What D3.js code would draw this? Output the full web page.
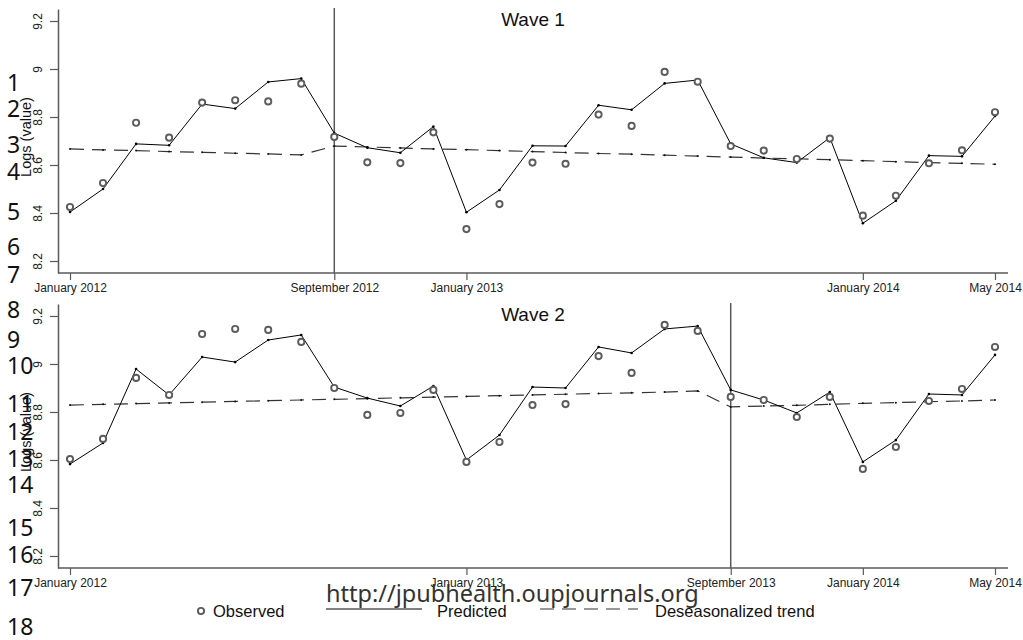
<!DOCTYPE html>
<html>
<head>
<meta charset="utf-8">
<script src="https://cdn.jsdelivr.net/npm/d3@7"></script>
<style>
  body { margin: 0; background: #fff; }
  svg { display: block; }
</style>
</head>
<body>
<svg id="chart" width="1023" height="640"></svg>
<script>
// Months January 2012 .. May 2014
const months = [
  "Jan 2012","Feb 2012","Mar 2012","Apr 2012","May 2012","Jun 2012","Jul 2012","Aug 2012",
  "Sep 2012","Oct 2012","Nov 2012","Dec 2012","Jan 2013","Feb 2013","Mar 2013","Apr 2013",
  "May 2013","Jun 2013","Jul 2013","Aug 2013","Sep 2013","Oct 2013","Nov 2013","Dec 2013",
  "Jan 2014","Feb 2014","Mar 2014","Apr 2014","May 2014"
];

// Labelled months on each panel's time axis
const wave1Ticks = ["Jan 2012", "Sep 2012", "Jan 2013", "Jan 2014", "May 2014"];
const wave2Ticks = ["Jan 2012", "Jan 2013", "Sep 2013", "Jan 2014", "May 2014"];
const tickNames = {
  "Jan 2012": "January 2012", "Sep 2012": "September 2012", "Jan 2013": "January 2013",
  "Sep 2013": "September 2013", "Jan 2014": "January 2014", "May 2014": "May 2014"
};
const yTicks = [8.2, 8.4, 8.6, 8.8, 9, 9.2];

// Wave 1 (intervention September 2012)
const wave1Observed = [8.425, 8.525, 8.776, 8.714, 8.860, 8.870, 8.865, 8.939,
  8.717, 8.611, 8.608, 8.736, 8.333, 8.437, 8.610, 8.605,
  8.810, 8.763, 8.988, 8.947, 8.679, 8.660, 8.625, 8.710,
  8.389, 8.472, 8.607, 8.661, 8.820];
const wave1Predicted = [8.404, 8.500, 8.688, 8.682, 8.854, 8.835, 8.946, 8.960,
  8.733, 8.672, 8.651, 8.760, 8.403, 8.496, 8.680, 8.679,
  8.849, 8.830, 8.940, 8.954, 8.688, 8.630, 8.610, 8.714,
  8.357, 8.451, 8.639, 8.636, 8.804];
const wave1Trend = [8.667, 8.663, 8.660, 8.656, 8.653, 8.649, 8.646, 8.642,
  8.679, 8.675, 8.671, 8.667, 8.664, 8.660, 8.656, 8.652,
  8.648, 8.645, 8.641, 8.637, 8.633, 8.629, 8.626, 8.622,
  8.618, 8.614, 8.610, 8.607, 8.603];

// Wave 2 (intervention September 2013)
const wave2Observed = [8.604, 8.688, 8.942, 8.871, 9.125, 9.146, 9.142, 9.092,
  8.900, 8.788, 8.796, 8.892, 8.592, 8.675, 8.829, 8.833,
  9.033, 8.963, 9.163, 9.138, 8.863, 8.850, 8.779, 8.863,
  8.563, 8.654, 8.846, 8.896, 9.071];
const wave2Predicted = [8.583, 8.671, 8.979, 8.871, 9.029, 9.008, 9.100, 9.121,
  8.904, 8.858, 8.825, 8.908, 8.600, 8.704, 8.904, 8.900,
  9.071, 9.046, 9.146, 9.158, 8.892, 8.850, 8.796, 8.883,
  8.592, 8.683, 8.875, 8.871, 9.038];
const wave2Trend = [8.829, 8.832, 8.835, 8.838, 8.841, 8.844, 8.847, 8.850,
  8.853, 8.856, 8.859, 8.862, 8.865, 8.868, 8.871, 8.874,
  8.877, 8.880, 8.883, 8.888, 8.821, 8.825, 8.828, 8.832,
  8.836, 8.839, 8.843, 8.846, 8.850];

const panels = [
  { title: "Wave 1", observed: wave1Observed, predicted: wave1Predicted, trend: wave1Trend,
    ticks: wave1Ticks, cut: "Sep 2012", top: 9, bottom: 273 },
  { title: "Wave 2", observed: wave2Observed, predicted: wave2Predicted, trend: wave2Trend,
    ticks: wave2Ticks, cut: "Sep 2013", top: 304, bottom: 568 }
];

const lineNumbers = d3.range(1, 19);
const lineNumberY = [83, 109, 145, 172, 212, 247, 275, 310, 340, 366, 404, 432, 459, 485, 528, 555, 588, 627];

const legendItems = ["Observed", "Predicted", "Deseasonalized trend"];
const sourceUrl = "http://jpubhealth.oupjournals.org";

const svg = d3.select("#chart");
const font = "'Liberation Sans', Arial, sans-serif";
const axisColor = "#5a5a5a";

const x = d3.scaleLinear().domain([0, months.length - 1]).range([70, 995]);
const xm = m => x(months.indexOf(m));

panels.forEach(p => {
  const y = d3.scaleLinear().domain([8.15, 9.25]).range([p.bottom, p.top]);
  const g = svg.append("g");

  // left axis
  const yAxis = d3.axisLeft(y).tickValues(yTicks).tickSize(8).tickSizeOuter(0)
    .tickFormat(d => d3.format("")(d));
  const ya = g.append("g").attr("transform", "translate(58,0)").call(yAxis);
  ya.select(".domain").attr("stroke", axisColor).attr("stroke-width", 1.5);
  ya.selectAll(".tick line").attr("stroke", axisColor).attr("stroke-width", 1.2);
  ya.selectAll(".tick text")
    .attr("font-family", font).attr("font-size", 12).attr("fill", "#222")
    .attr("transform", "rotate(-90)")
    .attr("x", 0).attr("y", -20).attr("dy", "0.35em")
    .attr("text-anchor", "middle");

  // bottom axis
  const xAxis = d3.axisBottom(x).tickValues(p.ticks.map(t => months.indexOf(t)))
    .tickSize(7).tickSizeOuter(0).tickFormat(i => tickNames[months[i]]);
  const xa = g.append("g").attr("transform", `translate(0,${p.bottom})`).call(xAxis);
  xa.select(".domain").remove();
  xa.append("line").attr("x1", 58).attr("x2", 1008).attr("y1", 0).attr("y2", 0)
    .attr("stroke", axisColor).attr("stroke-width", 1.5);
  xa.selectAll(".tick line").attr("stroke", axisColor).attr("stroke-width", 1.2);
  xa.selectAll(".tick text").attr("font-family", font).attr("font-size", 12)
    .attr("fill", "#222").attr("y", 10);

  // intervention line
  g.append("line").attr("x1", xm(p.cut)).attr("x2", xm(p.cut))
    .attr("y1", p.top - 1).attr("y2", p.bottom)
    .attr("stroke", axisColor).attr("stroke-width", 1.5);

  // y title
  g.append("text").attr("transform", `translate(26,${(p.top + p.bottom) / 2 - 4}) rotate(-90)`)
    .attr("text-anchor", "middle").attr("dy", "0.35em")
    .attr("font-family", font).attr("font-size", 14.5).attr("fill", "#111")
    .text("Logs (value)");

  // panel title
  g.append("text").attr("x", 533).attr("y", p.top + 17)
    .attr("text-anchor", "middle").attr("font-family", font).attr("font-size", 19)
    .attr("fill", "#111").text(p.title);

  // deseasonalized trend
  const line = d3.line().x((d, i) => x(i)).y(d => y(d));
  g.append("path").datum(p.trend).attr("d", line).attr("fill", "none")
    .attr("stroke", "#333").attr("stroke-width", 1.2).attr("stroke-dasharray", "14,8");
  g.selectAll(".tdot").data(p.trend).join("circle").attr("class", "tdot")
    .attr("cx", (d, i) => x(i)).attr("cy", d => y(d)).attr("r", 1).attr("fill", "#111");

  // predicted
  g.append("path").datum(p.predicted).attr("d", line).attr("fill", "none")
    .attr("stroke", "#000").attr("stroke-width", 1);
  g.selectAll(".pdot").data(p.predicted).join("circle").attr("class", "pdot")
    .attr("cx", (d, i) => x(i)).attr("cy", d => y(d)).attr("r", 1.3).attr("fill", "#000");

  // observed
  g.selectAll(".obs").data(p.observed).join("circle").attr("class", "obs")
    .attr("cx", (d, i) => x(i)).attr("cy", d => y(d)).attr("r", 3.1)
    .attr("fill", "#fff").attr("stroke", "#5c5c5c").attr("stroke-width", 1.9);
});

// legend
const lg = svg.append("g").attr("font-family", font).attr("font-size", 16.5).attr("fill", "#111");
const ly = 611;
lg.append("circle").attr("cx", 201).attr("cy", ly).attr("r", 3.1)
  .attr("fill", "#fff").attr("stroke", "#5c5c5c").attr("stroke-width", 1.9);
lg.append("text").attr("x", 213).attr("y", ly + 6).text(legendItems[0]);
lg.append("line").attr("x1", 326).attr("x2", 422).attr("y1", ly - 2).attr("y2", ly - 2)
  .attr("stroke", "#000").attr("stroke-width", 1);
lg.append("text").attr("x", 437).attr("y", ly + 6).text(legendItems[1]);
lg.append("line").attr("x1", 540).attr("x2", 638).attr("y1", ly - 2).attr("y2", ly - 2)
  .attr("stroke", "#333").attr("stroke-width", 1.2).attr("stroke-dasharray", "14,8");
lg.append("text").attr("x", 655).attr("y", ly + 6).text(legendItems[2]);

// line numbering in the margin
svg.append("g").selectAll("text").data(lineNumbers).join("text")
  .attr("x", 7).attr("y", (d, i) => lineNumberY[i] + 8)
  .attr("font-family", "'Noto Sans', 'Open Sans', sans-serif").attr("font-size", 23)
  .attr("fill", "#111").text(d => d);

// source url
svg.append("text").attr("x", 326).attr("y", 602)
  .attr("font-family", "'Noto Sans', 'Open Sans', sans-serif").attr("font-size", 23.5)
  .attr("fill", "#333").text(sourceUrl);
</script>
</body>
</html>
